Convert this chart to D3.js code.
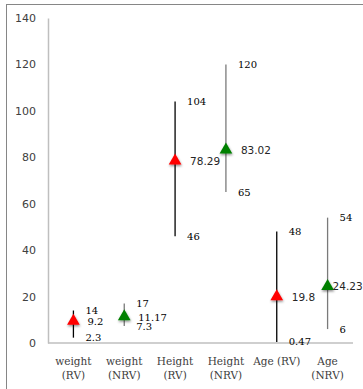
<!DOCTYPE html>
<html>
<head>
<meta charset="utf-8">
<script src="https://cdn.jsdelivr.net/npm/d3@7"></script>
<style>
  body { margin: 0; background: #fff; }
</style>
</head>
<body>
<div id="chart"></div>
<script>
// -- DATA --
var categories = ['weight (RV)', 'weight (NRV)', 'Height (RV)', 'Height (NRV)', 'Age (RV)', 'Age (NRV)']
var catLines = [['weight', '(RV)'], ['weight', '(NRV)'], ['Height', '(RV)'], ['Height', '(NRV)'], ['Age (RV)'], ['Age', '(NRV)']]
var highVals = [14, 17, 104, 120, 48, 54]
var meanVals = [9.2, 11.17, 78.29, 83.02, 19.8, 24.23]
var lowVals = [2.3, 7.3, 46, 65, 0.47, 6]
var groups = ['RV', 'NRV', 'RV', 'NRV', 'RV', 'NRV']
var yTicks = [0, 20, 40, 60, 80, 100, 120, 140]

// -- GLOBAL --
width = 363
height = 389
margin = {left: 48, right: 10, top: 18, bottom: 46}

var svg = d3.select('#chart').append('svg')
  .attr('width', width)
  .attr('height', height)

var data = categories.map((c, i) => ({
  cat: c,
  lines: catLines[i],
  high: highVals[i],
  mean: meanVals[i],
  low: lowVals[i],
  group: groups[i]
}))

var xMap = d3.scaleBand()
  .domain(categories)
  .range([margin.left, width - margin.right])

var yMap = d3.scaleLinear()
  .domain([0, 140])
  .range([height - margin.bottom, margin.top])

var markColor = {RV: '#ff0000', NRV: '#008000'}
var lineColor = {RV: '#000000', NRV: '#7a7a7a'}

// shadow for markers
var defs = svg.append('defs')
var f = defs.append('filter').attr('id', 'shadow')
  .attr('x', '-50%').attr('y', '-50%').attr('width', '200%').attr('height', '200%')
f.append('feDropShadow')
  .attr('dx', 0.5).attr('dy', 1.5)
  .attr('stdDeviation', 1.2)
  .attr('flood-color', '#000')
  .attr('flood-opacity', 0.45)

// outer frame
svg.append('rect')
  .attr('x', 6.5)
  .attr('y', 4.5)
  .attr('width', width + 10)
  .attr('height', height + 10)
  .style('fill', 'none')
  .style('stroke', '#868686')
  .style('stroke-width', '1px')

// axes
var yAxis = d3.axisLeft(yMap)
  .tickValues(yTicks)
  .tickSize(0)
  .tickPadding(12)

var gY = svg.append('g')
  .attr('transform', 'translate(' + margin.left + ',0)')
  .call(yAxis)
gY.select('.domain')
  .attr('stroke', '#bfbfbf')
  .attr('stroke-width', 1.5)
gY.selectAll('text')
  .style('font-family', 'DejaVu Sans, sans-serif')
  .style('font-size', '11px')
  .style('fill', '#404040')

svg.append('line')
  .attr('x1', margin.left)
  .attr('x2', width - margin.right)
  .attr('y1', yMap(0))
  .attr('y2', yMap(0))
  .style('stroke', '#bfbfbf')
  .style('stroke-width', '1.5px')

// category labels
var gX = svg.append('g')
data.forEach(d => {
  var t = gX.append('text')
    .attr('x', xMap(d.cat) + xMap.bandwidth() / 2)
    .attr('y', yMap(0) + 22)
    .style('font-family', 'DejaVu Serif, serif')
    .style('font-size', '10.5px')
    .style('fill', '#404040')
    .style('text-anchor', 'middle')
  d.lines.forEach((l, j) => {
    t.append('tspan')
      .attr('x', xMap(d.cat) + xMap.bandwidth() / 2)
      .attr('dy', j == 0 ? 0 : 14.3)
      .text(l)
  })
})

// high-low lines
var gHL = svg.append('g')
gHL.selectAll('line')
  .data(data)
  .enter().append('line')
  .attr('x1', d => xMap(d.cat) + xMap.bandwidth() / 2)
  .attr('x2', d => xMap(d.cat) + xMap.bandwidth() / 2)
  .attr('y1', d => yMap(d.low))
  .attr('y2', d => yMap(d.high))
  .style('stroke', d => lineColor[d.group])
  .style('stroke-width', '1.3px')

// mean markers
var tri = d3.symbol().type(d3.symbolTriangle).size(70)
svg.append('g').selectAll('path')
  .data(data)
  .enter().append('path')
  .attr('d', tri)
  .attr('transform', d => 'translate(' + (xMap(d.cat) + xMap.bandwidth() / 2) + ',' + (yMap(d.mean) - 0.5) + ')')
  .style('fill', d => markColor[d.group])
  .attr('filter', 'url(#shadow)')

// value labels
var gLab = svg.append('g')
  .style('font-size', '10px')
  .style('fill', '#000')

data.forEach((d, i) => {
  var cx = xMap(d.cat) + xMap.bandwidth() / 2
  gLab.append('text')
    .attr('x', cx + 12)
    .attr('y', yMap(d.high))
    .attr('dy', '0.35em')
    .style('font-family', 'DejaVu Serif, serif')
    .text(d.high)
  gLab.append('text')
    .attr('x', cx + 12)
    .attr('y', yMap(d.low))
    .attr('dy', '0.35em')
    .style('font-family', 'DejaVu Serif, serif')
    .text(d.low)
  // the first two mean labels sit in serif, the others in sans
  var sans = i >= 2
  gLab.append('text')
    .attr('x', cx + (i == 5 ? 5 : (sans ? 15 : 14)))
    .attr('y', yMap(d.mean))
    .attr('dy', '0.35em')
    .style('font-family', sans ? 'DejaVu Sans, sans-serif' : 'DejaVu Serif, serif')
    .style('font-size', sans ? '10.5px' : '10px')
    .style('fill', sans ? '#262626' : '#000')
    .text(d.mean)
})
</script>
</body>
</html>
